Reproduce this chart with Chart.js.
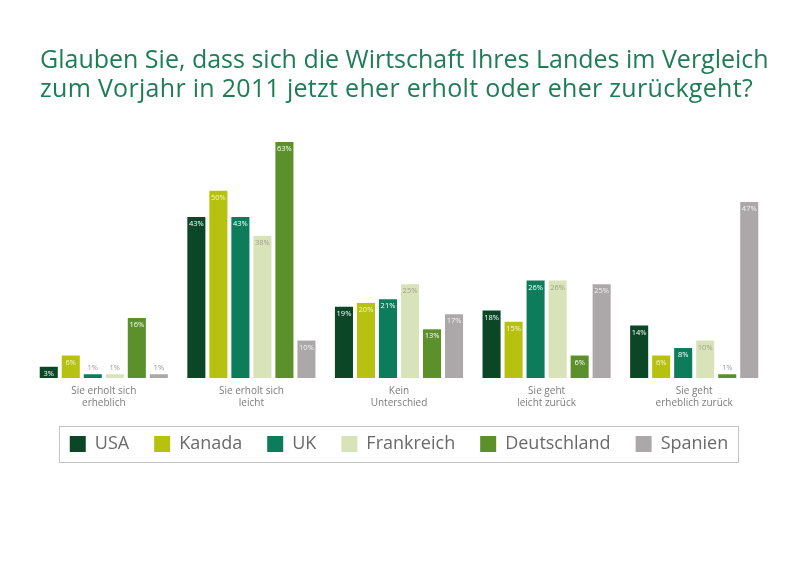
<!DOCTYPE html>
<html>
<head>
<meta charset="utf-8">
<script src="https://cdn.jsdelivr.net/npm/chart.js@4/dist/chart.umd.min.js"></script>
<style>
  html, body { margin: 0; padding: 0; background: #fff; }
  #wrap { width: 800px; height: 566px; }
</style>
</head>
<body>
<div id="wrap"><canvas id="myChart"></canvas></div>
<script>
(() => {
  'use strict'

  const titel = [
    'Glauben Sie, dass sich die Wirtschaft Ihres Landes im Vergleich',
    'zum Vorjahr in 2011 jetzt eher erholt oder eher zurückgeht?'
  ]

  const kategorien = [
    ['Sie erholt sich', 'erheblich'],
    ['Sie erholt sich', 'leicht'],
    ['Kein', 'Unterschied'],
    ['Sie geht', 'leicht zurück'],
    ['Sie geht', 'erheblich zurück']
  ]

  const laender = ['USA', 'Kanada', 'UK', 'Frankreich', 'Deutschland', 'Spanien']

  const usa = [3, 43, 19, 18, 14]
  const kanada = [6, 50, 20, 15, 6]
  const uk = [1, 43, 21, 26, 8]
  const frankreich = [1, 38, 25, 26, 10]
  const deutschland = [16, 63, 13, 6, 1]
  const spanien = [1, 10, 17, 25, 47]

  const werte = [usa, kanada, uk, frankreich, deutschland, spanien]

  const farben = ['#0b4626', '#b6c20f', '#0c7c5b', '#d8e3ba', '#5b902b', '#aca8aa']
  const labelFarben = ['#ffffff', '#f4f6d8', '#ffffff', '#9c9e8c', '#ffffff', '#f2f2f2']

  const FONT = "'Open Sans', 'DejaVu Sans', sans-serif"

  // Titel links oben
  const titelPlugin = {
    id: 'titel',
    afterDraw(chart) {
      const c = chart.ctx
      c.save()
      c.fillStyle = '#1e7d55'
      c.font = '25px ' + FONT
      c.textBaseline = 'alphabetic'
      c.textAlign = 'left'
      c.fillText(titel[0], 40, 68)
      c.letterSpacing = '0.3px'
      c.fillText(titel[1], 40, 97)
      c.restore()
    }
  }

  // Prozentwerte in den Balken
  const wertePlugin = {
    id: 'werte',
    afterDatasetsDraw(chart) {
      const c = chart.ctx
      c.save()
      c.font = '7.5px ' + FONT
      c.textAlign = 'center'
      c.textBaseline = 'middle'
      chart.data.datasets.forEach((ds, i) => {
        const meta = chart.getDatasetMeta(i)
        meta.data.forEach((bar, j) => {
          const v = ds.data[j]
          if (v >= 3) {
            c.fillStyle = labelFarben[i]
            c.fillText(v + '%', bar.x, bar.y + 7)
          } else {
            c.fillStyle = '#9a9a9a'
            c.fillText(v + '%', bar.x, bar.y - 6)
          }
        })
      })
      c.restore()
    }
  }

  // Rahmen um die Legende
  const rahmenPlugin = {
    id: 'rahmen',
    afterDraw(chart) {
      const hb = chart.legend.legendHitBoxes
      if (!hb || !hb.length) return
      const first = hb[0]
      const last = hb[hb.length - 1]
      const mitte = first.top + first.height / 2
      const c = chart.ctx
      c.save()
      c.strokeStyle = '#c4c4c4'
      c.lineWidth = 1
      c.strokeRect(Math.round(first.left - 11) + 0.5, Math.round(mitte - 18) + 0.5,
        Math.round(last.left + last.width - first.left + 21), 36)
      c.restore()
    }
  }

  new Chart(document.getElementById('myChart'), {
    type: 'bar',
    data: {
      labels: kategorien,
      datasets: laender.map((land, i) => ({
        label: land,
        data: werte[i],
        backgroundColor: farben[i],
        borderWidth: 0,
        barPercentage: 0.82,
        categoryPercentage: 0.895
      }))
    },
    options: {
      responsive: true,
      maintainAspectRatio: false,
      animation: false,
      layout: {
        padding: { top: 142, left: 30, right: 32, bottom: 103 }
      },
      plugins: {
        title: { display: false },
        tooltip: { enabled: false },
        legend: {
          display: true,
          position: 'bottom',
          labels: {
            boxWidth: 16,
            boxHeight: 16,
            padding: 25,
            color: '#6a6a6a',
            font: { family: FONT, size: 18 }
          }
        }
      },
      scales: {
        x: {
          grid: { display: false, drawTicks: false },
          border: { display: false },
          afterFit(axis) { axis.height = 32 },
          ticks: {
            padding: 7,
            color: '#7c7c7c',
            font: { family: FONT, size: 10, lineHeight: 1.2 },
            maxRotation: 0,
            autoSkip: false
          }
        },
        y: {
          display: false,
          min: 0,
          max: 63
        }
      }
    },
    plugins: [titelPlugin, wertePlugin, rahmenPlugin]
  })
})()
</script>
</body>
</html>
